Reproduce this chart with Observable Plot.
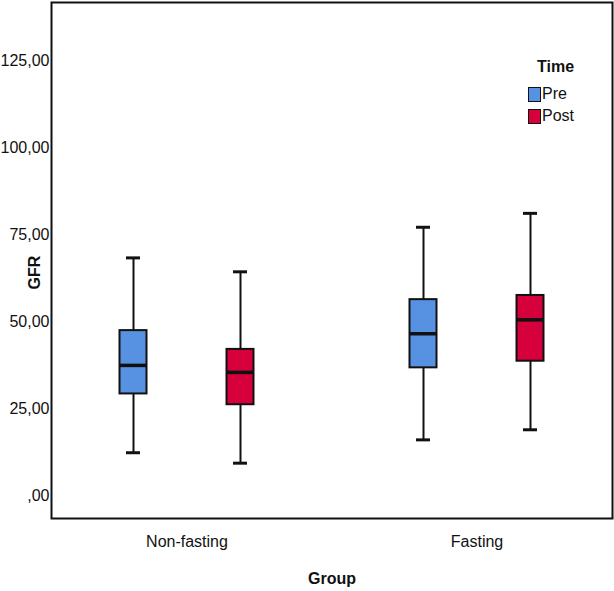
<!DOCTYPE html>
<html>
<head>
<meta charset="utf-8">
<script src="https://cdn.jsdelivr.net/npm/d3@7"></script>
<script src="https://cdn.jsdelivr.net/npm/@observablehq/plot@0.6"></script>
<style>
  body { margin: 0; background: #fff; font-family: "Liberation Sans", Arial, sans-serif; }
  #wrap { position: relative; width: 614px; height: 591px; }
  #legend { position: absolute; left: 528px; top: 58px; font-size: 16px; color: #111; }
  #legend .title { font-weight: bold; margin-left: 9px; margin-bottom: 7px; }
  #legend .row { display: flex; align-items: center; height: 22px; }
  #legend .sw { width: 11px; height: 13px; border: 1.5px solid #111; margin-right: 1px; }
</style>
</head>
<body>
<div id="wrap"></div>
<script>
const groups = ["Non-fasting", "Fasting"];
const times = ["Pre", "Post"];
const colors = ["#5792e2", "#d5003c"];
// order: Non-fasting Pre, Non-fasting Post, Fasting Pre, Fasting Post
const whiskerLow  = [12.3,  9.3, 16.0, 18.9];
const q1          = [29.2, 26.1, 36.7, 38.6];
const median      = [37.4, 35.4, 46.5, 50.5];
const q3          = [47.4, 42.0, 56.3, 57.5];
const whiskerHigh = [68.3, 64.3, 77.1, 81.1];
const yTicks = [0, 25, 50, 75, 100, 125];

const rows = [];
groups.forEach((g, gi) => times.forEach((t, ti) => {
  const i = gi * 2 + ti;
  rows.push({group: g, time: t, low: whiskerLow[i], q1: q1[i], med: median[i], q3: q3[i], high: whiskerHigh[i]});
}));

const boxInset = 131.5, capInset = 138;
function boxMarks(time, dx) {
  const d = rows.filter(r => r.time === time);
  return [
    Plot.ruleX(d, {x: "group", y1: "low", y2: "q1", dx, stroke: "#111", strokeWidth: 2}),
    Plot.ruleX(d, {x: "group", y1: "q3", y2: "high", dx, stroke: "#111", strokeWidth: 2}),
    Plot.tickY(d, {x: "group", y: "low", dx, insetLeft: capInset, insetRight: capInset, stroke: "#111", strokeWidth: 3}),
    Plot.tickY(d, {x: "group", y: "high", dx, insetLeft: capInset, insetRight: capInset, stroke: "#111", strokeWidth: 3}),
    Plot.barY(d, {x: "group", y1: "q1", y2: "q3", dx, insetLeft: boxInset, insetRight: boxInset, fill: "time", stroke: "#111", strokeWidth: 2}),
    Plot.tickY(d, {x: "group", y: "med", dx, insetLeft: boxInset, insetRight: boxInset, stroke: "#111", strokeWidth: 3.5})
  ];
}

const chart = Plot.plot({
  width: 614,
  height: 591,
  marginLeft: 51,
  marginRight: 2,
  marginTop: 2,
  marginBottom: 73,
  style: {fontFamily: "Liberation Sans, Arial, sans-serif", fontSize: "16px", color: "#111", background: "#fff"},
  x: {type: "band", domain: groups, range: [41.5, 621.5], padding: 0, round: false, label: null, tickSize: 0, tickPadding: 17},
  y: {domain: [-6.6, 141.7], ticks: yTicks, tickFormat: d => d === 0 ? ",00" : d.toFixed(2).replace(".", ","), tickSize: 0, tickPadding: 2, label: null},
  color: {domain: times, range: colors},
  marks: [
    ...boxMarks("Pre", -53.5),
    ...boxMarks("Post", 53.5),
    Plot.frame({stroke: "#111", strokeWidth: 2}),
    Plot.text(["GFR"], {text: d => d, frameAnchor: "left", textAnchor: "middle", lineAnchor: "middle", rotate: -90, dx: -17, dy: 12, fontWeight: "bold", fontSize: 16, fill: "#111"}),
    Plot.text(["Group"], {text: d => d, frameAnchor: "bottom", textAnchor: "middle", lineAnchor: "middle", dy: 60, fontWeight: "bold", fontSize: 16, fill: "#111"})
  ]
});

const wrap = document.getElementById("wrap");
wrap.appendChild(chart);
const legend = document.createElement("div");
legend.id = "legend";
legend.innerHTML = `<div class="title">Time</div>` + times.map((t, i) =>
  `<div class="row"><div class="sw" style="background:${colors[i]}"></div><span>${t}</span></div>`).join("");
wrap.appendChild(legend);
</script>
</body>
</html>
